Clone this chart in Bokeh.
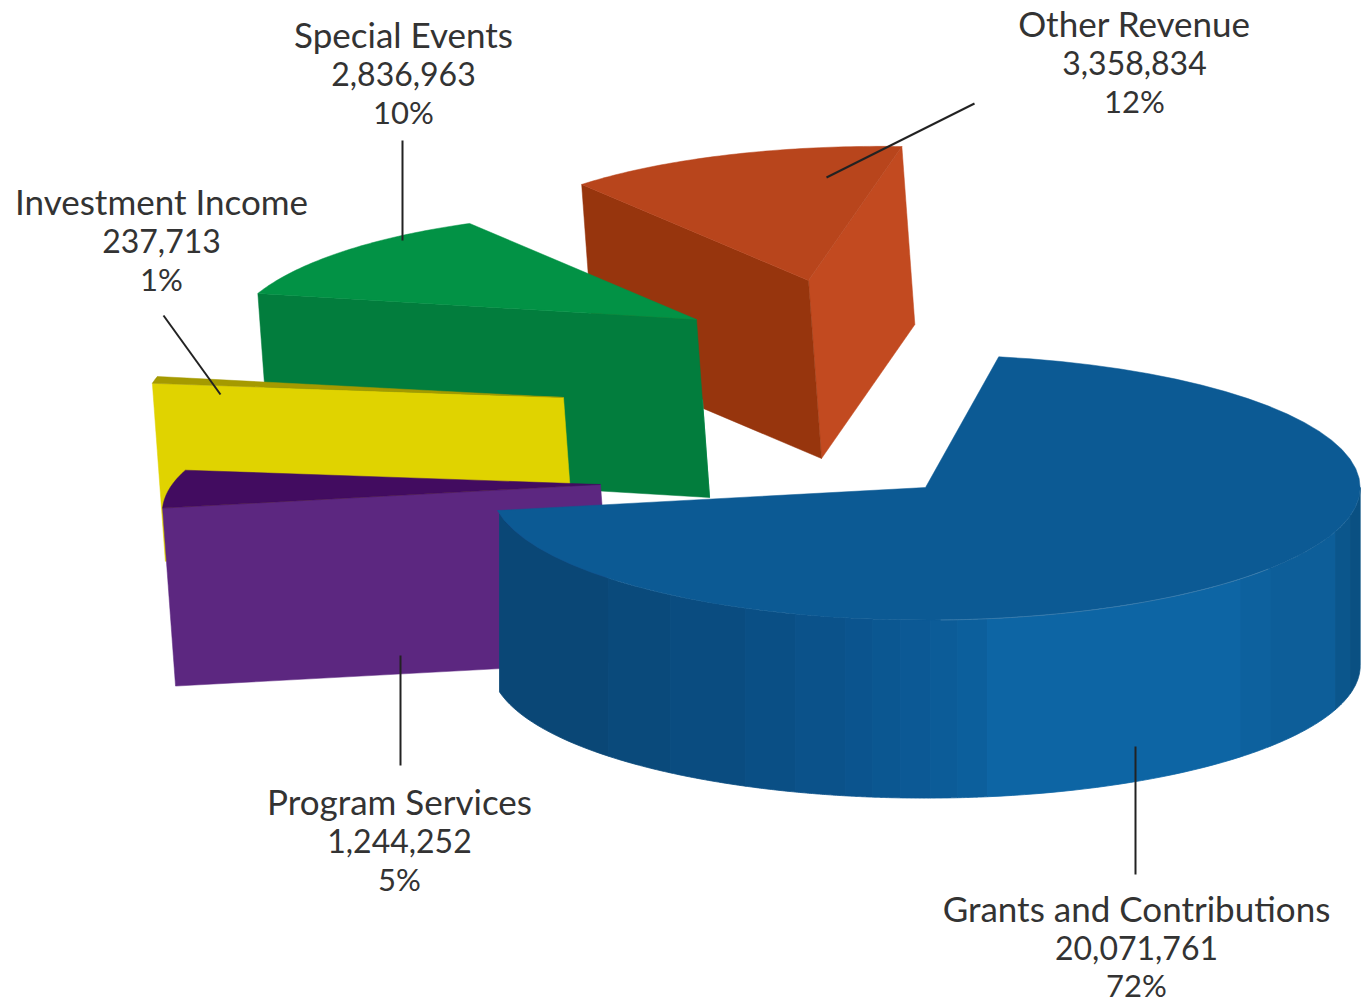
import numpy as np
from bokeh.plotting import figure
from bokeh.core.properties import value
from bokeh.embed import file_html
from bokeh.resources import INLINE

# ---- data
categories = ["Other Revenue", "Special Events", "Investment Income", "Program Services", "Grants and Contributions"]
amounts = [3358834, 2836963, 237713, 1244252, 20071761]
amount_labels = ["3,358,834", "2,836,963", "237,713", "1,244,252", "20,071,761"]
percent_labels = ["12%", "10%", "1%", "5%", "72%"]

# ---- view parameters of the 3-D pie
center_x, center_y = 925, 487
radius_x, radius_y = 436, 133
depth = 178
explode_x = [-117, -229, -362, -325, 0]
explode_y = [-207, -168, -90, -3, 0]
shear = [13, 13, 13, 13, 0]
# perspective: pie angle (deg from first slice) -> angle drawn on screen
warp_from = [0, 43.6, 80.4, 83.5, 99.6, 360]
warp_to = [78, 125.8, 169, 173.6, 190, 440.3]
start_nudge = [0, 0, 1.4, 0, 0]
# perspective: radius scale at the two ends of each slice
radius_start = [1.03, 0.89, 0.945, 0.958, 0.997]
radius_end = [0.89, 1.025, 0.949, 1.02, 0.997]

top_colors = ["#b8451c", "#029245", "#a59a00", "#420c60", "#0c5a94"]
front_colors = ["#97350d", "#027d3d", "#e0d300", "#5c2780", "#0d65a4"]
side_colors = ["#c24a20", "#027d3d", "#e0d300", "#5c2780", "#0c5a94"]
wall_band_x = [499, 608, 670, 745, 795, 845, 872, 900, 930, 957, 987, 1240, 1270, 1335, 1350, 1360]
wall_band_colors = ["#0a4776", "#0a4a7b", "#0a4c80", "#0a4f85", "#0b528a", "#0b548e", "#0b5791",
                    "#0c5995", "#0c5c98", "#0c5f9c", "#0d65a4", "#0d619e", "#0d5e99", "#0b568c", "#0a5082"]

label_x = [1134, 403, 161, 399, 1136]
label_y = [[22, 62, 100], [33, 73, 111], [200, 240, 278], [800, 840, 878], [907, 947, 984]]
leader_x = [[974, 826], [402, 402], [163, 220], [400, 400], [1135, 1135]]
leader_y = [[103, 177], [140, 240], [315, 394], [655, 765], [746, 874]]

W, H = 1364, 1002
p = figure(width=W, height=H, x_range=(0, W), y_range=(H, 0), output_backend="svg",
           toolbar_location=None, min_border=0, outline_line_color=None)
p.axis.visible = False
p.grid.visible = False

total = sum(amounts)
edges = np.cumsum([0] + amounts) / total * 360
screen = np.interp(edges, warp_from, warp_to)


def ring(i, a0, a1, n=60):
    u = np.linspace(0, 1, n)
    t = np.radians(a0 + (a1 - a0) * u)
    r = radius_start[i] + (radius_end[i] - radius_start[i]) * u
    return (center_x + explode_x[i] + radius_x * r * np.cos(t),
            center_y + explode_y[i] - radius_y * r * np.sin(t))


def face(i, xs, ys, color, lw=0.5):
    xs, ys = list(xs), list(ys)
    fx = xs + [x + shear[i] for x in xs[::-1]]
    fy = ys + [y + depth for y in ys[::-1]]
    p.patch(fx, fy, fill_color=color, line_color=color, line_width=lw)


for i in range(5):
    a0, a1 = screen[i] + start_nudge[i], screen[i + 1]
    ax, ay = center_x + explode_x[i], center_y + explode_y[i]
    xs, ys = ring(i, a0, a1)
    if i == 4:
        # outer wall seen from the front, shaded in vertical bands
        blue_rx = radius_x * radius_start[i]
        for x0, x1, col in zip(wall_band_x[:-1], wall_band_x[1:], wall_band_colors):
            s0 = 360 - np.degrees(np.arccos(np.clip((x0 - center_x) / blue_rx, -1, 1)))
            s1 = 360 - np.degrees(np.arccos(np.clip((x1 - center_x) / blue_rx, -1, 1)))
            t = np.radians(np.linspace(s0, s1, 24))
            face(i, center_x + blue_rx * np.cos(t), center_y - radius_y * radius_start[i] * np.sin(t), col, lw=0.8)
    else:
        if i == 0:
            face(i, [ax, xs[0]], [ay, ys[0]], side_colors[i])
        if i == 1:
            p.line([ax + shear[i] * 0.45, ax + shear[i]], [ay + depth * 0.45, ay + depth],
                   line_color="#2aa06a", line_width=1.2)
        face(i, [xs[-1], ax], [ys[-1], ay], front_colors[i])
    p.patch([ax] + list(xs), [ay] + list(ys), fill_color=top_colors[i], line_color=top_colors[i], line_width=0.5)

# faint highlight on the rim of the large slice
rim = np.radians(np.linspace(272, 322, 60))
p.line(center_x + radius_x * radius_start[4] * np.cos(rim), center_y - radius_y * radius_start[4] * np.sin(rim),
       line_color="#5f95bd", line_width=0.8, line_alpha=0.6)

for lx, ly in zip(leader_x, leader_y):
    p.line(lx, ly, line_color="#222222", line_width=2)

for i in range(5):
    sizes = ["35px", "32px", "31px"]
    lines = [categories[i], amount_labels[i], percent_labels[i]]
    for line, y, s in zip(lines, label_y[i], sizes):
        p.text([label_x[i]], [y], text=[line], text_font=value("Lato"), text_font_size=s,
               text_color="#333333", text_align="center", text_baseline="middle")

open("out.html", "w").write(file_html(p, INLINE))
